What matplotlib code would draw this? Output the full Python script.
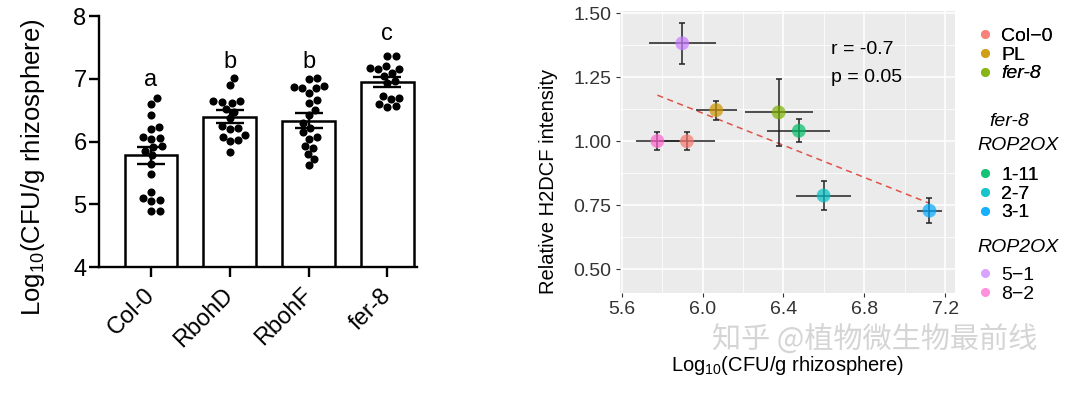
import numpy as np
import matplotlib
matplotlib.use('Agg')
import matplotlib.pyplot as plt
from matplotlib.lines import Line2D

plt.rcParams['font.family'] = ['Liberation Sans', 'DejaVu Sans']
plt.rcParams['mathtext.fontset'] = 'custom'
plt.rcParams['mathtext.rm'] = 'Liberation Sans'

# ---- left panel data (bar + dots) ----
groups = ['Col-0', 'RbohD', 'RbohF', 'fer-8']
bar_means = [5.78, 6.40, 6.33, 6.95]
bar_sem = [0.14, 0.10, 0.12, 0.08]
letters = ['a', 'b', 'b', 'c']
letter_y = [6.98, 7.27, 7.27, 7.72]
col0_pts = [6.70, 6.60, 6.43, 6.23, 6.20, 6.08, 6.06, 6.05, 5.93, 5.91,
            5.85, 5.78, 5.65, 5.49, 5.20, 5.10, 5.07, 5.05, 4.90, 4.89]
rbohd_pts = [7.02, 6.91, 6.65, 6.64, 6.63, 6.62, 6.52, 6.48, 6.37, 6.25,
             6.22, 6.20, 6.10, 6.08, 6.03, 6.01, 5.83]
rbohf_pts = [7.02, 7.00, 6.88, 6.87, 6.86, 6.85, 6.78, 6.66, 6.62, 6.50,
             6.42, 6.29, 6.22, 6.15, 6.08, 6.05, 5.93, 5.90, 5.80, 5.72, 5.62]
fer8_pts = [7.37, 7.36, 7.20, 7.18, 7.16, 7.15, 7.10, 7.05, 6.97, 6.93,
            6.72, 6.70, 6.68, 6.60, 6.57, 6.56]
all_pts = [col0_pts, rbohd_pts, rbohf_pts, fer8_pts]

# ---- right panel data (correlation) ----
lines = ['Col\u22120', 'PL', 'fer-8', '1-11', '2-7', '3-1', '5\u22121', '8\u22122']
cfu_mean = [5.923, 6.068, 6.376, 6.476, 6.598, 7.121, 5.900, 5.777]
cfu_err = [0.14, 0.10, 0.168, 0.155, 0.137, 0.06, 0.166, 0.106]
h2dcf_mean = [1.000, 1.122, 1.113, 1.041, 0.788, 0.729, 1.383, 1.001]
h2dcf_err = [0.035, 0.037, 0.13, 0.045, 0.056, 0.05, 0.08, 0.037]
colors = ['#F8766D', '#CD9600', '#7CAE00', '#00BE67', '#00BFC4', '#00A9FF', '#C77CFF', '#FF61CC']
r_text = 'r = -0.7'
p_text = 'p = 0.05'


def swarm(vals, ypx, xpx, d):
    # simple beeswarm: offsets in category units
    vals = np.asarray(vals)
    placed = []
    offs = np.zeros(len(vals))
    for i in np.argsort(vals):
        y = vals[i] * ypx
        x = 0.0
        for step in range(400):
            found = False
            for sgn in ([1] if step == 0 else [1, -1]):
                x = sgn * step * 0.5
                if all((x - px) ** 2 + (y - py) ** 2 >= d * d for px, py in placed):
                    found = True
                    break
            if found:
                break
        placed.append((x, y))
        offs[i] = x / xpx
    return offs


fig = plt.figure(figsize=(10.8, 3.94), dpi=100)

# ---------------- left panel ----------------
ax1 = fig.add_axes([0.0917, 0.322, 0.294, 0.637])
xpos = np.arange(len(groups))
ax1.bar(xpos, np.array(bar_means) - 4, bottom=4, width=0.67, color='white',
        edgecolor='black', linewidth=1.8, zorder=1)
for i, pts in enumerate(all_pts):
    offs = swarm(pts, 62.75, 79, 8.2)
    ax1.scatter(xpos[i] + offs, pts, s=34, color='black', zorder=3, linewidths=0)
ax1.errorbar(xpos, bar_means, yerr=bar_sem, fmt='none', ecolor='black',
             elinewidth=1.7, capsize=10, capthick=1.7, zorder=4)
for i, t in enumerate(letters):
    ax1.text(xpos[i], letter_y[i], t, ha='center', va='center', fontsize=17)

ax1.set_xlim(-0.66, 3.37)
ax1.set_ylim(4, 8)
ax1.set_yticks([4, 5, 6, 7, 8])
ax1.set_xticks(xpos)
ax1.set_xticklabels(groups, rotation=45, ha='right', va='center',
                    rotation_mode='anchor', fontsize=17)
ax1.tick_params(axis='y', labelsize=17, width=1.7, length=7, pad=2)
ax1.tick_params(axis='x', width=1.7, length=7, pad=11)
for s in ['top', 'right']:
    ax1.spines[s].set_visible(False)
for s in ['left', 'bottom']:
    ax1.spines[s].set_linewidth(1.7)
ax1.set_ylabel(r'Log$_{10}$(CFU/g rhizosphere)', fontsize=18.5)
ax1.yaxis.set_label_coords(-0.165, 0.40)

# ---------------- right panel ----------------
ax2 = fig.add_axes([0.574, 0.2563, 0.310, 0.7157])
ax2.set_facecolor('#EBEBEB')
ax2.set_axisbelow(True)
ax2.set_xlim(5.592, 7.246)
ax2.set_ylim(0.407, 1.509)
ax2.set_xticks([5.6, 6.0, 6.4, 6.8, 7.2])
ax2.set_xticks([5.8, 6.2, 6.6, 7.0], minor=True)
ax2.set_yticks([0.50, 0.75, 1.00, 1.25, 1.50])
ax2.set_yticks([0.625, 0.875, 1.125, 1.375], minor=True)
ax2.set_yticklabels(['0.50', '0.75', '1.00', '1.25', '1.50'])
ax2.grid(which='major', color='white', linewidth=1.1)
ax2.grid(which='minor', color='white', linewidth=0.55)
for s in ax2.spines.values():
    s.set_visible(False)
ax2.tick_params(which='major', colors='#333333', length=3, width=0.8,
                labelsize=14, labelcolor='#333333', pad=3)
ax2.tick_params(which='minor', length=0)

ax2.errorbar(cfu_mean, h2dcf_mean, xerr=cfu_err, fmt='none', ecolor='#222222',
             elinewidth=1.1, capsize=0, zorder=3)
ax2.errorbar(cfu_mean, h2dcf_mean, yerr=h2dcf_err, fmt='none', ecolor='#222222',
             elinewidth=1.1, capsize=2.2, capthick=1.1, zorder=3)
ax2.scatter(cfu_mean, h2dcf_mean, s=100, c=colors, alpha=0.7, linewidths=0, zorder=4)

fit = np.polyfit(cfu_mean, h2dcf_mean, 1)
xf = np.array([min(cfu_mean), max(cfu_mean)])
ax2.plot(xf, np.polyval(fit, xf), ls=(0, (4, 3)), color='#E0534A', lw=1.1, zorder=2)

ax2.text(6.637, 1.357, r_text, fontsize=14, ha='left', va='center')
ax2.text(6.637, 1.251, p_text, fontsize=14, ha='left', va='center')

ax2.set_xlabel(r'Log$_{10}$(CFU/g rhizosphere)', fontsize=14.5)
ax2.xaxis.set_label_coords(0.5, -0.215)
ax2.set_ylabel('Relative H2DCF intensity', fontsize=14.5)
ax2.yaxis.set_label_coords(-0.185, 0.394)

# legends
def handles(idx):
    return [Line2D([], [], marker='o', ls='', color=colors[i], alpha=0.7,
                   markersize=6.5, markeredgewidth=0) for i in idx]

leg_kw = dict(frameon=False, fontsize=14, handlelength=0.8, handletextpad=0.45,
              labelspacing=0.05, borderpad=0, borderaxespad=0, loc='upper left')
leg1 = fig.legend(handles([0, 1, 2]), [lines[i] for i in [0, 1, 2]],
                  bbox_to_anchor=(0.9046, 0.930), **leg_kw)
leg1.get_texts()[2].set_style('italic')
leg2 = fig.legend(handles([3, 4, 5]), [lines[i] for i in [3, 4, 5]],
                  bbox_to_anchor=(0.9046, 0.577), **leg_kw)
leg3 = fig.legend(handles([6, 7]), [lines[i] for i in [6, 7]],
                  bbox_to_anchor=(0.9046, 0.3236), **leg_kw)
fig.add_artist(leg1)
fig.add_artist(leg2)

# legend titles
fig.text(1009 / 1080, 1 - 122 / 394, 'fer-8', fontsize=14, style='italic',
         ha='center', va='center')
fig.text(977 / 1080, 1 - 145 / 394, 'ROP2OX', fontsize=14, style='italic',
         ha='left', va='center')
fig.text(977 / 1080, 1 - 248 / 394, 'ROP2OX', fontsize=14, style='italic',
         ha='left', va='center')

# watermark
fig.text(0.81, 1 - 341 / 394, '知乎 @植物微生物最前线', fontsize=21, color='#D5D5D5',
         ha='center', va='center', family=['Noto Sans CJK SC', 'DejaVu Sans'], zorder=0)

fig.savefig('out.png', dpi=100)
